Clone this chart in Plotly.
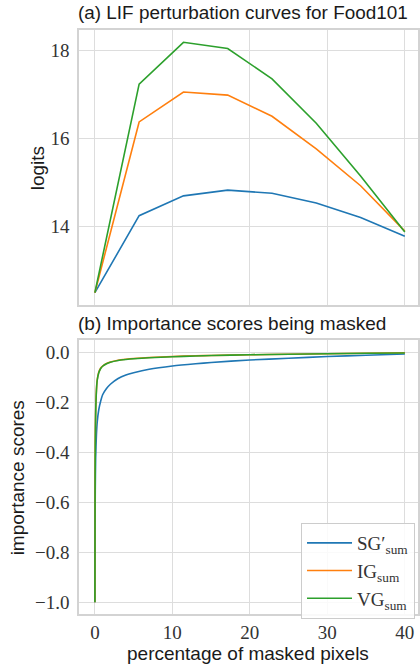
import plotly.graph_objects as go
from plotly.subplots import make_subplots

# ---- data: (a) perturbation curves ----
x_a = [0, 5.71, 11.43, 17.14, 22.86, 28.57, 34.29, 40]
sg_a = [12.50, 14.25, 14.70, 14.83, 14.76, 14.54, 14.21, 13.78]
ig_a = [12.50, 16.38, 17.06, 16.99, 16.51, 15.77, 14.93, 13.90]
vg_a = [12.50, 17.24, 18.19, 18.05, 17.36, 16.35, 15.15, 13.88]

# ---- data: (b) importance scores ----
x_b = [0, 0.02, 0.05, 0.1, 0.2, 0.3, 0.5, 0.75, 1, 1.5, 2, 3, 4, 5, 7, 10, 13, 15, 20, 25, 30, 35, 40]
sg_b = [-1.0, -0.75, -0.55, -0.42, -0.33, -0.28, -0.23, -0.195, -0.17, -0.145, -0.128, -0.105,
        -0.091, -0.082, -0.068, -0.055, -0.046, -0.041, -0.031, -0.024, -0.017, -0.012, -0.007]
ig_b = [-1.0, -0.60, -0.36, -0.24, -0.15, -0.11, -0.08, -0.063, -0.055, -0.045, -0.039, -0.032,
        -0.028, -0.025, -0.021, -0.017, -0.014, -0.013, -0.010, -0.008, -0.006, -0.004, -0.002]
vg_b = [-1.0, -0.62, -0.37, -0.25, -0.155, -0.113, -0.082, -0.065, -0.056, -0.046, -0.040, -0.033,
        -0.029, -0.026, -0.022, -0.018, -0.015, -0.013, -0.010, -0.008, -0.006, -0.004, -0.003]

names = ["SG′<sub>sum</sub>", "IG<sub>sum</sub>", "VG<sub>sum</sub>"]
colors = ["#1f77b4", "#ff7f0e", "#2ca02c"]

fig = make_subplots(rows=2, cols=1)

for ys, c, n in zip([sg_a, ig_a, vg_a], colors, names):
    fig.add_trace(go.Scatter(x=x_a, y=ys, mode="lines", line=dict(color=c, width=1.6),
                             name=n, showlegend=False), row=1, col=1)
for ys, c, n in zip([sg_b, ig_b, vg_b], colors, names):
    fig.add_trace(go.Scatter(x=x_b, y=ys, mode="lines", line=dict(color=c, width=1.6, shape="spline", smoothing=0.6),
                             name=n, showlegend=True), row=2, col=1)

grid = "#dddddd"
spine = "#d3d3d3"
tickfont = dict(family="Liberation Serif", size=19, color="#333333")

common_x = dict(range=[-2.05, 41.7], tickvals=[0, 10, 20, 30, 40], showgrid=True, gridcolor=grid,
                gridwidth=1, zeroline=False, showline=True, linecolor=spine, linewidth=1.5, mirror=True,
                ticks="", tickfont=tickfont)
fig.update_xaxes(**common_x)
fig.update_xaxes(showticklabels=False, domain=[0, 1], row=1, col=1)

common_y = dict(showgrid=True, gridcolor=grid, gridwidth=1, zeroline=False, showline=True,
                linecolor=spine, linewidth=1.5, mirror=True, ticks="outside", ticklen=4,
                tickcolor="rgba(0,0,0,0)", tickfont=tickfont)
fig.update_yaxes(**common_y)
fig.update_yaxes(range=[12.22, 18.47], tickvals=[14, 16, 18], domain=[1 - 305 / 664, 1 - 30 / 664], row=1, col=1)
fig.update_yaxes(range=[-1.047, 0.049], tickvals=[0, -0.2, -0.4, -0.6, -0.8, -1.0], tickformat=".1f",
                 domain=[1 - 614 / 664, 1 - 340 / 664], row=2, col=1)

sans = dict(family="Liberation Sans", size=19, color="#1a1a1a")
L, W = 79, 341


def px(x):
    return (x - L) / W


def py(y):
    return 1 - y / 664


ann = [
    dict(text="(a) LIF perturbation curves for Food101", x=px(76), y=py(12), xanchor="left", yanchor="middle",
         font=dict(family="Liberation Sans", size=18.9, color="#1a1a1a")),
    dict(text="(b) Importance scores being masked", x=px(76), y=py(323), xanchor="left", yanchor="middle",
         font=dict(family="Liberation Sans", size=19, color="#1a1a1a")),
    dict(text="logits", x=px(37), y=py(168), xanchor="center", yanchor="middle", textangle=-90, font=sans),
    dict(text="importance scores", x=px(17), y=py(478), xanchor="center", yanchor="middle", textangle=-90, font=sans),
    dict(text="percentage of masked pixels", x=px(249), y=py(653), xanchor="center", yanchor="middle", font=sans),
]
for a in ann:
    fig.add_annotation(xref="paper", yref="paper", showarrow=False, **a)

fig.update_layout(
    width=420, height=664,
    margin=dict(l=L, r=0, t=0, b=0),
    paper_bgcolor="white", plot_bgcolor="white",
    legend=dict(x=px(417), y=py(619), xanchor="right", yanchor="bottom",
                bgcolor="rgba(255,255,255,0.85)", bordercolor="#cccccc", borderwidth=1,
                font=dict(family="Liberation Serif", size=19, color="#333333"),
                tracegroupgap=0, itemwidth=45),
)

fig.write_html("out.html", config={"displayModeBar": False},
               post_script="document.body.style.margin='0';document.body.style.overflow='hidden';")
